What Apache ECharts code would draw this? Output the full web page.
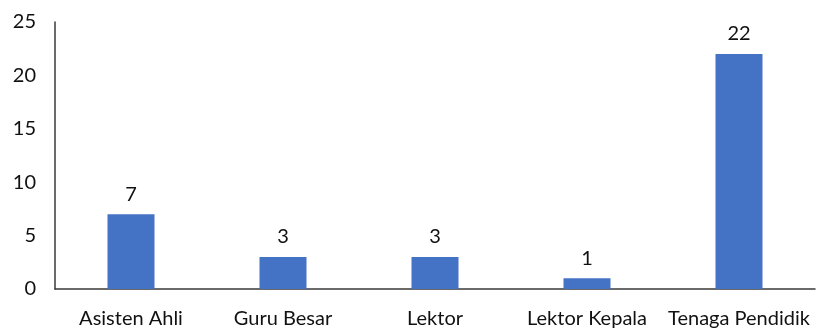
<!DOCTYPE html>
<html>
<head>
<meta charset="utf-8">
<script src="https://cdn.jsdelivr.net/npm/echarts@6/dist/echarts.min.js"></script>
<style>
  html, body { margin: 0; padding: 0; background: #fff; }
  #chart { width: 817px; height: 335px; }
</style>
</head>
<body>
<div id="chart"></div>
<script>
// Staff count per academic rank
const categories = ['Asisten Ahli', 'Guru Besar', 'Lektor', 'Lektor Kepala', 'Tenaga Pendidik'];
const counts = [7, 3, 3, 1, 22];
const yTicks = { min: 0, max: 25, interval: 5 };

const font = 'Lato, "Open Sans", sans-serif';
const chart = echarts.init(document.getElementById('chart'));
chart.setOption({
  animation: false,
  grid: { left: 55, right: 2, top: 22, bottom: 46, containLabel: false },
  xAxis: {
    type: 'category',
    data: categories,
    axisLine: { lineStyle: { color: '#3a3a3a', width: 1.5 } },
    axisTick: { show: false },
    axisLabel: { interval: 0, color: '#111', fontFamily: font, fontSize: 20, margin: 20 }
  },
  yAxis: {
    type: 'value',
    min: yTicks.min, max: yTicks.max, interval: yTicks.interval,
    axisLine: { show: true, lineStyle: { color: '#3a3a3a', width: 1.5 } },
    axisTick: { show: false },
    splitLine: { show: false },
    axisLabel: { color: '#111', fontFamily: font, fontSize: 20, margin: 19 }
  },
  series: [{
    type: 'bar',
    data: counts,
    barWidth: 47,
    itemStyle: { color: '#4472C4' },
    label: { show: true, position: 'top', distance: 10, color: '#111', fontFamily: font, fontSize: 20 }
  }]
});
</script>
</body>
</html>
